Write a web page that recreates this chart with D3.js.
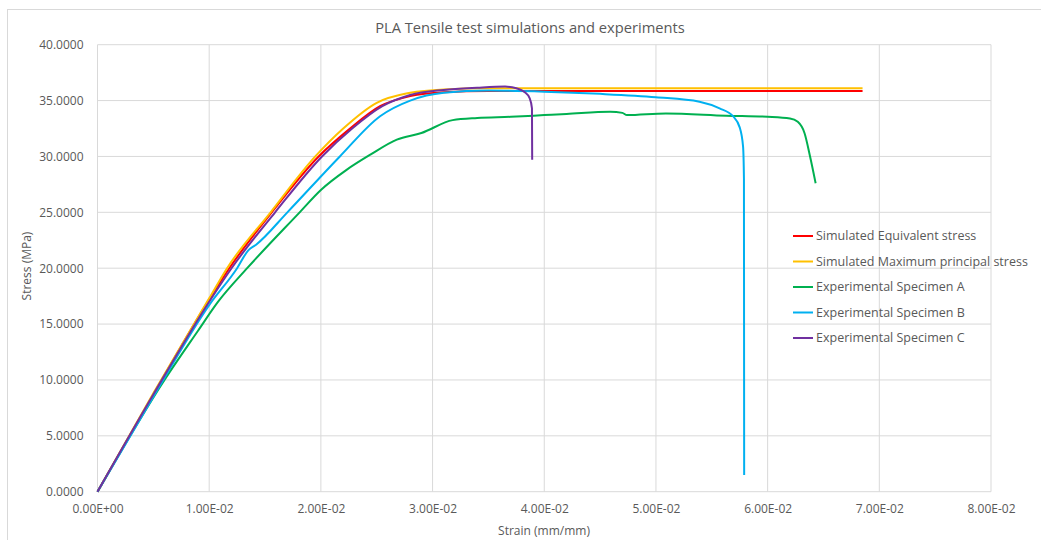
<!DOCTYPE html>
<html>
<head>
<meta charset="utf-8">
<script src="https://cdn.jsdelivr.net/npm/d3@7"></script>
<style>
  body { margin: 0; background: #fff; }
  text { font-family: "Open Sans", "Noto Sans", sans-serif; fill: #595959; }
</style>
</head>
<body>
<script>
// strain (mm/mm) / stress (MPa) pairs
var seriesNames = ["Simulated Equivalent stress", "Simulated Maximum principal stress",
  "Experimental Specimen A", "Experimental Specimen B", "Experimental Specimen C"];
var seriesColors = ["#ff0000", "#ffc000", "#00b050", "#00b0f0", "#7030a0"];

var simEquivalent = [[0,0],[0.005,8.7],[0.01,17.2],[0.0118,20],[0.0156,25],[0.0198,30],[0.0225,32.4],
  [0.0253,34.5],[0.028,35.4],[0.031,35.75],[0.035,35.85],[0.0685,35.85]];
var simMaxPrincipal = [[0,0],[0.005,8.8],[0.01,17.3],[0.0116,20],[0.0155,25],[0.0195,30],[0.022,32.5],
  [0.025,34.8],[0.028,35.7],[0.031,36.0],[0.035,36.1],[0.0685,36.1]];
var specimenA = [[0,0],[0.006,10],[0.009,14.4],[0.0108,17],[0.0134,20],[0.0181,25],[0.02,27.0],
  [0.0223,28.8],[0.0245,30.2],[0.0268,31.5],[0.029,32.1],[0.0318,33.25],[0.034,33.45],[0.037,33.55],
  [0.04,33.7],[0.042,33.8],[0.0459,34.0],[0.047,33.9],[0.0474,33.7],[0.0509,33.85],[0.0563,33.65],
  [0.06,33.55],[0.062,33.4],[0.0627,33.1],[0.0633,32.1],[0.0638,30.0],[0.0643,27.6]];
var specimenB = [[0,0],[0.005,8.5],[0.01,16.7],[0.0125,20],[0.0135,21.6],[0.0142,22.1],[0.017,25],
  [0.0217,30],[0.0253,33.6],[0.028,35.0],[0.031,35.7],[0.035,35.9],[0.04,35.8],[0.045,35.6],[0.05,35.3],
  [0.0539,34.9],[0.0557,34.3],[0.0569,33.6],[0.0575,32.6],[0.0578,30.9],[0.05788,28],[0.0579,1.5]];
var specimenC = [[0,0],[0.005,8.7],[0.01,17.0],[0.012,20],[0.0159,25],[0.0201,30],[0.0228,32.5],
  [0.0255,34.5],[0.028,35.5],[0.031,35.95],[0.034,36.15],[0.0365,36.25],[0.0375,36.1],[0.0382,35.8],
  [0.0387,35.2],[0.0389,34.3],[0.03892,29.7]];

var xTicks = [0, 0.01, 0.02, 0.03, 0.04, 0.05, 0.06, 0.07, 0.08];
var yTicks = [0, 5, 10, 15, 20, 25, 30, 35, 40];

var allSeries = [simEquivalent, simMaxPrincipal, specimenA, specimenB, specimenC];

var W = 1041, H = 540;
var margin = { top: 44.7, left: 97.5 },
    width = 991 - margin.left,
    height = 491.7 - margin.top;

var svg = d3.select("body").append("svg")
    .attr("width", W)
    .attr("height", H);

// chart frame
svg.append("rect")
    .attr("x", 7.5).attr("y", 9.5)
    .attr("width", W).attr("height", H)
    .attr("fill", "none").attr("stroke", "#d9d9d9");

svg.append("text")
    .attr("x", 530).attr("y", 33)
    .attr("text-anchor", "middle")
    .style("font-size", "14.7px")
    .text("PLA Tensile test simulations and experiments");

var g = svg.append("g")
    .attr("transform", "translate(" + margin.left + "," + margin.top + ")");

var x = d3.scaleLinear().domain([0, 0.08]).range([0, width]);
var y = d3.scaleLinear().domain([0, 40]).range([height, 0]);

// grid
g.selectAll(".vgrid").data(xTicks).enter().append("line")
    .attr("x1", d => x(d)).attr("x2", d => x(d))
    .attr("y1", 0).attr("y2", height)
    .attr("stroke", "#d9d9d9");
g.selectAll(".hgrid").data(yTicks).enter().append("line")
    .attr("y1", d => y(d)).attr("y2", d => y(d))
    .attr("x1", 0).attr("x2", width)
    .attr("stroke", "#d9d9d9");

var xAxis = g.append("g")
    .attr("transform", "translate(0," + height + ")")
    .call(d3.axisBottom(x).tickValues(xTicks).tickSize(0).tickPadding(13)
        .tickFormat(d => d.toExponential(2).replace("e", "E").replace(/E([+-])(\d)$/, "E$10$2")));
var yAxis = g.append("g")
    .call(d3.axisLeft(y).tickValues(yTicks).tickSize(0).tickPadding(14)
        .tickFormat(d3.format(".4f")));

[xAxis, yAxis].forEach(function (a) {
  a.select(".domain").remove();
  a.selectAll("text").style("font-size", "12px").attr("fill", "#595959")
      .style("font-family", '"Open Sans", sans-serif');
});

svg.append("text")
    .attr("x", 544).attr("y", 535)
    .attr("text-anchor", "middle")
    .style("font-size", "12px")
    .text("Strain (mm/mm)");
svg.append("text")
    .attr("transform", "translate(31,266) rotate(-90)")
    .attr("text-anchor", "middle")
    .style("font-size", "12px")
    .text("Stress (MPa)");

var line = d3.line()
    .x(d => x(d[0]))
    .y(d => y(d[1]))
    .curve(d3.curveMonotoneX);

g.selectAll(".series").data(allSeries).enter().append("path")
    .attr("d", line)
    .attr("fill", "none")
    .attr("stroke", (d, i) => seriesColors[i])
    .attr("stroke-width", 2)
    .attr("stroke-linejoin", "round");

// legend
var legend = svg.selectAll(".legend").data(seriesNames).enter().append("g")
    .attr("transform", (d, i) => "translate(793," + (236 + i * 25.5) + ")");
legend.append("line")
    .attr("x1", 0).attr("x2", 20)
    .attr("stroke", (d, i) => seriesColors[i])
    .attr("stroke-width", 2);
legend.append("text")
    .attr("x", 23).attr("dy", "0.35em")
    .style("font-size", "12.5px")
    .text(d => d);
</script>
</body>
</html>
